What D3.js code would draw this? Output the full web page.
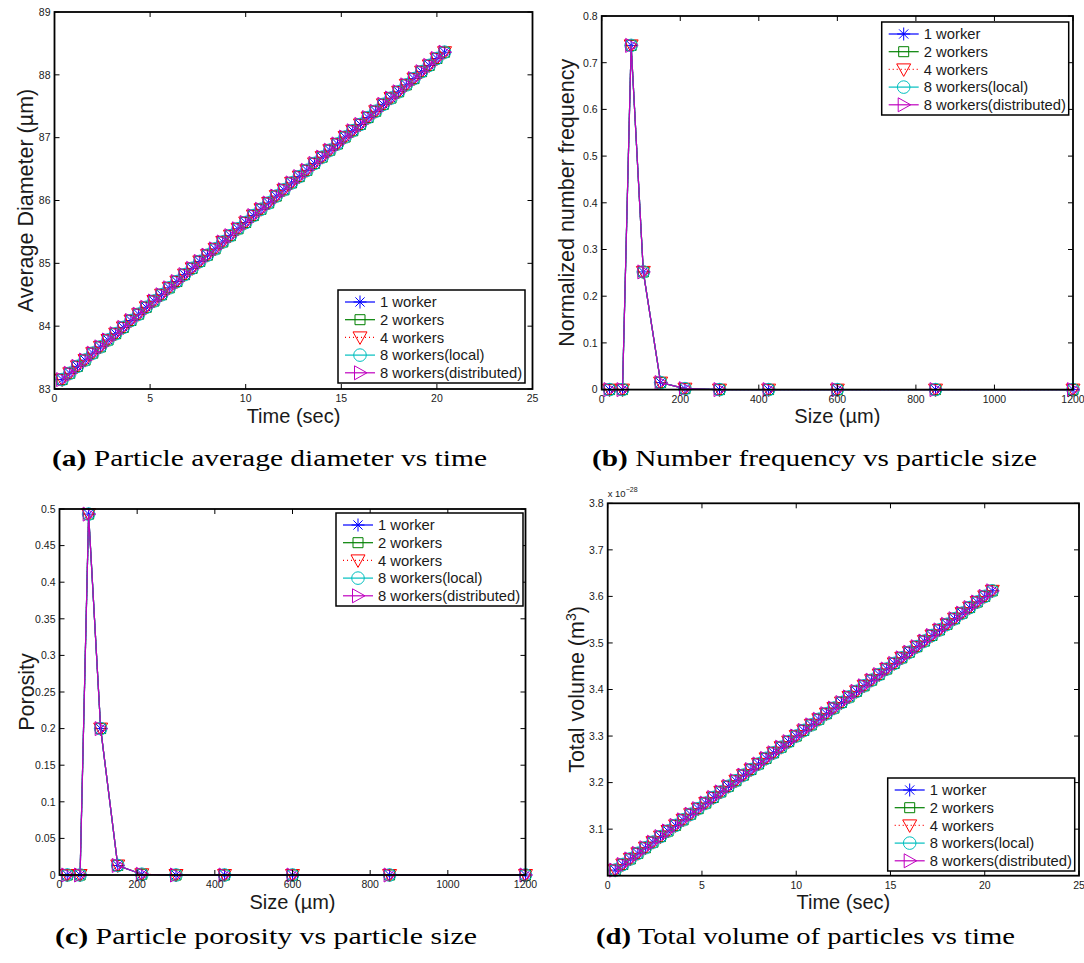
<!DOCTYPE html>
<html>
<head>
<meta charset="utf-8">
<script src="https://cdn.jsdelivr.net/npm/d3@7"></script>
<style>
body { margin: 0; background: #fff; }
svg { display: block; }
text { font-family: Arial, "Liberation Sans", Helvetica, sans-serif; fill: #1a1a1a; }
text.cap { font-family: "Liberation Serif", "Times New Roman", serif; fill: #000; }
</style>
</head>
<body>
<svg width="1084" height="963"></svg>
<script>
// five runs, all give the same curves
var seriesNames = ["1 worker", "2 workers", "4 workers", "8 workers(local)", "8 workers(distributed)"];
var seriesColors = ["#0000ff", "#008000", "#ff0000", "#00bfbf", "#bf00bf"];
var seriesSymbols = ["star", "square", "down", "circle", "right"];
var seriesDash = [null, null, "1,3", null, null];

var timeSec = [0.4, 0.8, 1.2, 1.6, 2.0, 2.4, 2.8, 3.2, 3.6, 4.0, 4.4, 4.8, 5.2, 5.6, 6.0, 6.4, 6.8,
    7.2, 7.6, 8.0, 8.4, 8.8, 9.2, 9.6, 10.0, 10.4, 10.8, 11.2, 11.6, 12.0, 12.4, 12.8, 13.2, 13.6,
    14.0, 14.4, 14.8, 15.2, 15.6, 16.0, 16.4, 16.8, 17.2, 17.6, 18.0, 18.4, 18.8, 19.2, 19.6, 20.0, 20.4];
var avgDiameter = [83.15, 83.25, 83.36, 83.46, 83.57, 83.67, 83.78, 83.88, 83.98, 84.09, 84.19, 84.30,
    84.40, 84.50, 84.61, 84.71, 84.82, 84.92, 85.03, 85.13, 85.23, 85.34, 85.44, 85.55, 85.65, 85.76,
    85.86, 85.96, 86.07, 86.17, 86.28, 86.38, 86.48, 86.59, 86.69, 86.80, 86.90, 87.01, 87.11, 87.21,
    87.32, 87.42, 87.53, 87.63, 87.73, 87.84, 87.94, 88.05, 88.15, 88.26, 88.36];
// total volume in units of 1e-28 m^3
var totalVolume = [3.012, 3.024, 3.036, 3.048, 3.060, 3.072, 3.084, 3.096, 3.108, 3.120, 3.132, 3.144,
    3.156, 3.168, 3.180, 3.192, 3.204, 3.216, 3.228, 3.240, 3.252, 3.264, 3.276, 3.288, 3.300, 3.312,
    3.324, 3.336, 3.348, 3.360, 3.372, 3.384, 3.396, 3.408, 3.420, 3.432, 3.444, 3.456, 3.468, 3.480,
    3.492, 3.504, 3.516, 3.528, 3.540, 3.552, 3.564, 3.576, 3.588, 3.600, 3.612];

var sieveSize = [20, 53, 75, 106, 150, 212, 300, 425, 600, 850, 1200];
var numberFreq = [0, 0, 0.737, 0.252, 0.015, 0.002, 0, 0, 0, 0, 0];
var porosity = [0, 0, 0.493, 0.2, 0.013, 0.001, 0, 0, 0, 0, 0];

var ticksTime = [0, 5, 10, 15, 20, 25];
var ticksSize = [0, 200, 400, 600, 800, 1000, 1200];
var ticksDiam = [83, 84, 85, 86, 87, 88, 89];
var ticksFreq = [0, 0.1, 0.2, 0.3, 0.4, 0.5, 0.6, 0.7, 0.8];
var ticksPor = [0, 0.05, 0.1, 0.15, 0.2, 0.25, 0.3, 0.35, 0.4, 0.45, 0.5];
var ticksVol = [3.1, 3.2, 3.3, 3.4, 3.5, 3.6, 3.7, 3.8];

var panels = [
    { box: [54.5, 532.5, 12, 389], xDom: [0, 25], yDom: [83, 89], xTicks: ticksTime, yTicks: ticksDiam,
      xs: timeSec, ys: avgDiameter, xLabel: "Time (sec)", yLabel: "Average Diameter (\u00b5m)", yLabelX: 33,
      legend: [338, 290], cap: ["(a)", " Particle average diameter vs time"], capPos: [52, 466, 435] },
    { box: [601.7, 1073, 16, 389.6], xDom: [0, 1200], yDom: [0, 0.8], xTicks: ticksSize, yTicks: ticksFreq,
      xs: sieveSize, ys: numberFreq, xLabel: "Size (\u00b5m)", yLabel: "Normalized number frequency", yLabelX: 574,
      legend: [881.7, 22], cap: ["(b)", " Number frequency vs particle size"], capPos: [592, 466, 445] },
    { box: [59.5, 525.5, 509, 875], xDom: [0, 1200], yDom: [0, 0.5], xTicks: ticksSize, yTicks: ticksPor,
      xs: sieveSize, ys: porosity, xLabel: "Size (\u00b5m)", yLabel: "Porosity", yLabelX: 34,
      legend: [336, 513], cap: ["(c)", " Particle porosity vs particle size"], capPos: [55, 944, 422] },
    { box: [607.7, 1079, 503.3, 875.7], xDom: [0, 25], yDom: [3, 3.8], xTicks: ticksTime, yTicks: ticksVol,
      xs: timeSec, ys: totalVolume, xLabel: "Time (sec)", yLabel: "Total volume (m", yLabelX: 584, sup: true,
      legend: [887.7, 778], cap: ["(d)", " Total volume of particles vs time"], capPos: [596, 944, 419] }
];

var svg = d3.select("svg");

function markerPath(type) {
    var a = 4.6;
    switch (type) {
        case "star": return "M-6.5,0H6.5M0,-6.5V6.5M" + (-a) + "," + (-a) + "L" + a + "," + a + "M" + (-a) + "," + a + "L" + a + "," + (-a);
        case "square": return "M-5,-5H5V5H-5Z";
        case "down": return "M-7,-5.5L7,-5.5L0,7Z";
        case "right": return "M-5.5,-7L7,0L-5.5,7Z";
        default: return "M-6.3,0A6.3,6.3 0 1,0 6.3,0A6.3,6.3 0 1,0 -6.3,0Z";
    }
}

panels.forEach(function (p) {
    var x = d3.scaleLinear().domain(p.xDom).range([p.box[0], p.box[1]]);
    var y = d3.scaleLinear().domain(p.yDom).range([p.box[3], p.box[2]]);
    var g = svg.append("g");

    // series: line + hollow markers, later runs on top
    var line = d3.line().x(function (d) { return x(d[0]); }).y(function (d) { return y(d[1]); });
    var pts = d3.zip(p.xs, p.ys);
    seriesNames.forEach(function (name, i) {
        var s = g.append("g");
        s.append("path").attr("d", line(pts)).attr("fill", "none")
            .attr("stroke", seriesColors[i]).attr("stroke-width", 1.2)
            .attr("stroke-dasharray", seriesDash[i]);
        s.selectAll("path.m").data(pts).enter().append("path").attr("class", "m")
            .attr("d", markerPath(seriesSymbols[i]))
            .attr("transform", function (d) { return "translate(" + x(d[0]) + "," + y(d[1]) + ")"; })
            .attr("fill", "none").attr("stroke", seriesColors[i]).attr("stroke-width", 1);
    });

    // box and inward ticks on all sides
    g.append("rect").attr("x", p.box[0]).attr("y", p.box[2])
        .attr("width", p.box[1] - p.box[0]).attr("height", p.box[3] - p.box[2])
        .attr("fill", "none").attr("stroke", "#000").attr("stroke-width", 1.8);
    p.xTicks.forEach(function (t) {
        g.append("path").attr("d", "M" + x(t) + "," + p.box[3] + "v-5M" + x(t) + "," + p.box[2] + "v5")
            .attr("stroke", "#000").attr("stroke-width", 1);
        g.append("text").attr("x", x(t)).attr("y", p.box[3] + 13).attr("text-anchor", "middle")
            .attr("font-size", 10.5).text(String(t));
    });
    p.yTicks.forEach(function (t) {
        g.append("path").attr("d", "M" + p.box[0] + "," + y(t) + "h5M" + p.box[1] + "," + y(t) + "h-5")
            .attr("stroke", "#000").attr("stroke-width", 1);
        g.append("text").attr("x", p.box[0] - 4).attr("y", y(t) + 3.8).attr("text-anchor", "end")
            .attr("font-size", 10.5).text(String(t));
    });

    g.append("text").attr("x", (p.box[0] + p.box[1]) / 2).attr("y", p.box[3] + 33.5)
        .attr("text-anchor", "middle").attr("font-size", 20).text(p.xLabel);
    var yl = g.append("text").attr("transform", "translate(" + p.yLabelX + "," + (p.box[2] + p.box[3]) / 2 + ") rotate(-90)")
        .attr("text-anchor", "middle").attr("font-size", 21.5);
    if (p.sup) {
        yl.append("tspan").text(p.yLabel);
        yl.append("tspan").attr("dy", -8).attr("font-size", 14).text("3");
        yl.append("tspan").attr("dy", 8).text(")");
        g.append("text").attr("x", p.box[0]).attr("y", p.box[2] - 6).attr("font-size", 9.5)
            .text("x 10").append("tspan").attr("dy", -5).attr("font-size", 7).text("\u221228");
    } else {
        yl.text(p.yLabel);
    }

    // legend
    var lg = g.append("g").attr("transform", "translate(" + p.legend[0] + "," + p.legend[1] + ")");
    lg.append("rect").attr("width", 187).attr("height", 93).attr("fill", "#fff")
        .attr("stroke", "#000").attr("stroke-width", 1.5);
    seriesNames.forEach(function (name, i) {
        var ey = 12 + i * 17.7;
        lg.append("line").attr("x1", 7).attr("x2", 37).attr("y1", ey).attr("y2", ey)
            .attr("stroke", seriesColors[i]).attr("stroke-width", 1.2).attr("stroke-dasharray", seriesDash[i]);
        lg.append("path").attr("d", markerPath(seriesSymbols[i])).attr("transform", "translate(22," + ey + ")")
            .attr("fill", "none").attr("stroke", seriesColors[i]).attr("stroke-width", 1);
        lg.append("text").attr("x", 42).attr("y", ey + 5.2).attr("font-size", 14.8).text(name);
    });

    // caption
    var cap = svg.append("text").attr("class", "cap").attr("x", p.capPos[0]).attr("y", p.capPos[1])
        .attr("font-size", 23).attr("textLength", p.capPos[2]).attr("lengthAdjust", "spacingAndGlyphs");
    cap.append("tspan").attr("font-weight", "bold").text(p.cap[0]);
    cap.append("tspan").text(p.cap[1]);
});
</script>
</body>
</html>
